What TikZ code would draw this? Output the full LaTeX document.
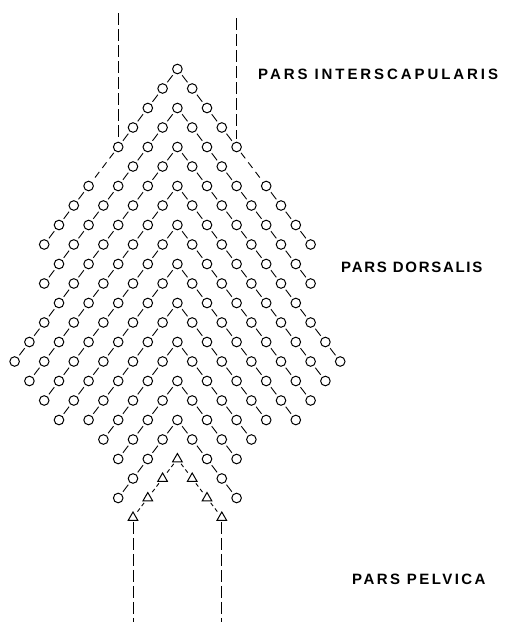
\documentclass[tikz,border=0pt]{standalone}
\usepackage{fontspec}
\newfontfamily\labA[LetterSpace=19.5]{Liberation Sans}
\newfontfamily\labB[LetterSpace=11.5]{Liberation Sans}
\newfontfamily\labC[LetterSpace=16.5]{Liberation Sans}
\usetikzlibrary{shapes.geometric}
\begin{document}
\begin{tikzpicture}[x=1pt,y=-1pt,
  dot/.style={circle,draw,line width=1pt,minimum size=9.6pt,inner sep=0pt},
  tri/.style={regular polygon,regular polygon sides=3,draw,line width=1pt,minimum size=11pt,inner sep=0pt},
  link/.style={line width=0.9pt,shorten <=2.5pt,shorten >=2.5pt},
  gaplink/.style={line width=0.9pt,dash pattern=on 7pt off 5pt,shorten <=2pt,shorten >=2pt},
  trilink/.style={line width=0.9pt,dash pattern=on 4pt off 3pt,shorten <=2pt,shorten >=2pt},
  vline/.style={line width=0.9pt,dash pattern=on 12pt off 4pt},
  lab/.style={anchor=base west,inner sep=0pt}]
\useasboundingbox (0,0) rectangle (520,624);
\def\xo{177.4}\def\dx{14.8}\def\yo{69}\def\dy{19.5}
% circles
\foreach \k/\len in {0/9,1/9,2/11,3/10,4/9,5/8,6/6,7/5,8/4,9/4}{
  \node[dot,alias=k\k R0] (k\k L0) at (\xo,{\yo+2*\k*\dy}) {};
  \foreach \j in {1,...,\len}{
    \pgfmathtruncatemacro\miss{(\k==0)&&(\j==5)}
    \ifnum\miss=0
      \node[dot] (k\k L\j) at ({\xo-\j*\dx},{\yo+(2*\k+\j)*\dy}) {};
      \node[dot] (k\k R\j) at ({\xo+\j*\dx},{\yo+(2*\k+\j)*\dy}) {};
    \fi
  }
}
% links
\foreach \k/\len in {0/9,1/9,2/11,3/10,4/9,5/8,6/6,7/5,8/4,9/4}{
  \foreach \j in {1,...,\len}{
    \pgfmathtruncatemacro\p{\j-1}
    \pgfmathtruncatemacro\code{(\k==0)*((\j==5)+2*(\j==6))}
    \ifcase\code
      \draw[link] (k\k L\p) -- (k\k L\j);
      \draw[link] (k\k R\p) -- (k\k R\j);
    \or
    \or
      \draw[gaplink] (k0L4) -- (k0L6);
      \draw[gaplink] (k0R4) -- (k0R6);
    \fi
  }
}
% triangles
\node[tri,alias=k10R0] (k10L0) at (\xo,{\yo+20*\dy}) {};
\foreach \j in {1,2,3}{
  \node[tri] (k10L\j) at ({\xo-\j*\dx},{\yo+(20+\j)*\dy}) {};
  \node[tri] (k10R\j) at ({\xo+\j*\dx},{\yo+(20+\j)*\dy}) {};
}
\foreach \j in {1,2,3}{
  \pgfmathtruncatemacro\p{\j-1}
  \draw[trilink] (k10L\p) -- (k10L\j);
  \draw[trilink] (k10R\p) -- (k10R\j);
}
% vertical dashed lines
\coordinate (tl) at ({\xo-4*\dx},13);
\coordinate (tr) at ({\xo+4*\dx},18);
\coordinate (bl) at ({\xo-3*\dx},622);
\coordinate (br) at ({\xo+3*\dx},622);
\draw[vline,shorten >=3pt] (tl) -- (k0L4);
\draw[vline,shorten >=3pt] (tr) -- (k0R4);
\draw[vline,shorten <=1pt] (k10L3) -- (bl);
\draw[vline,shorten <=1pt] (k10R3) -- (br);
% labels
\node[lab,font=\labA\bfseries\fontsize{15}{17}\selectfont] (t1) at (258,79.5) {PARS INTERSCAPULARIS};
\node[lab,font=\labB\bfseries\fontsize{15}{17}\selectfont] (t2) at (341,272) {PARS DORSALIS};
\node[lab,font=\labC\bfseries\fontsize{15}{17}\selectfont] (t3) at (352,584) {PARS PELVICA};
\end{tikzpicture}
\end{document}
